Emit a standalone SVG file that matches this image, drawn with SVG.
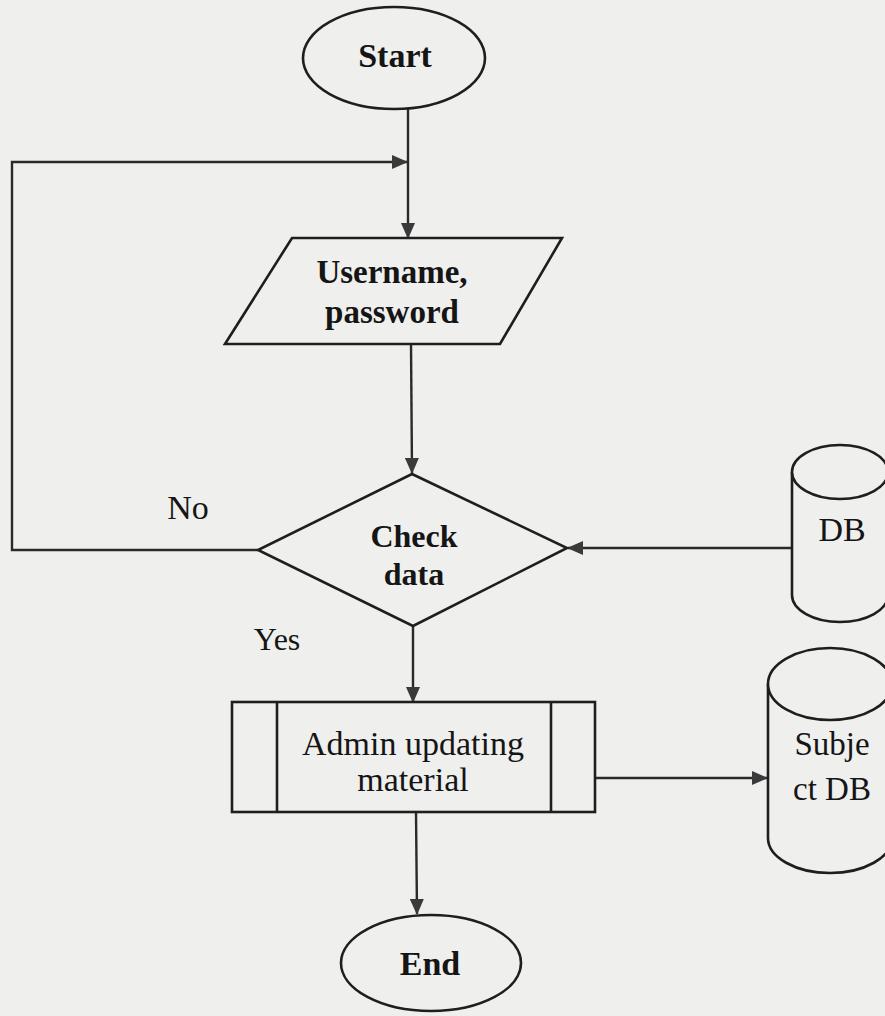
<svg xmlns="http://www.w3.org/2000/svg" width="885" height="1016" viewBox="0 0 885 1016">
<style>
.s{fill:none;stroke:#1e1e1e;stroke-width:2.6}
.f{fill:#efefed;stroke:#1e1e1e;stroke-width:2.6}
.c{fill:none;stroke:#2a2a2a;stroke-width:2.4}
.t{font-family:"Liberation Serif",serif;font-size:33px;fill:#151515;text-anchor:middle}
.b{font-weight:bold}
</style>
<defs>
<marker id="ah" markerWidth="16" markerHeight="14" refX="15" refY="7" orient="auto" markerUnits="userSpaceOnUse">
<path d="M0,0 L16,7 L0,14 Z" fill="#3a3a3a"/>
</marker>
</defs>
<rect width="885" height="1016" fill="#efefed"/>
<g id="connectors">
<path class="c" d="M408,109 L408,238" marker-end="url(#ah)"/>
<path class="c" d="M258,550 L12,550 L12,162 L407,162" marker-end="url(#ah)"/>
<path class="c" d="M411,344 L412,473" marker-end="url(#ah)"/>
<path class="c" d="M792,548 L568,548" marker-end="url(#ah)"/>
<path class="c" d="M413,626 L413,702" marker-end="url(#ah)"/>
<path class="c" d="M595,778 L767,778" marker-end="url(#ah)"/>
<path class="c" d="M416,812 L417,914" marker-end="url(#ah)"/>
</g>
<g id="start">
<ellipse class="f" cx="394" cy="58" rx="91" ry="51"/>
<text class="t b" x="395" y="67" style="font-size:34px">Start</text>
</g>
<g id="input">
<polygon class="f" points="292,238 562,238 500,344 225,344"/>
<text class="t b" x="392" y="283">Username,</text>
<text class="t b" x="392" y="323">password</text>
</g>
<g id="check">
<polygon class="f" points="412,474 567,548 413,626 258,550"/>
<text class="t b" x="414" y="547" style="font-size:32px">Check</text>
<text class="t b" x="414" y="585" style="font-size:32px">data</text>
</g>
<g id="labels">
<text class="t" x="188" y="519" style="font-size:34px">No</text>
<text class="t" x="277" y="650" style="font-size:32px">Yes</text>
</g>
<g id="db">
<path class="f" d="M792,472 L792,595 A48,27 0 0 0 888,595 L888,472"/>
<ellipse class="f" cx="840" cy="472" rx="48" ry="27"/>
<text class="t" x="842" y="541" style="font-size:34px">DB</text>
</g>
<g id="process">
<rect class="f" x="232" y="702" width="363" height="110"/>
<line class="s" x1="277" y1="702" x2="277" y2="812"/>
<line class="s" x1="551" y1="702" x2="551" y2="812"/>
<text class="t" x="413" y="755" style="font-size:34px">Admin updating</text>
<text class="t" x="413" y="791" style="font-size:34px">material</text>
</g>
<g id="subjectdb">
<path class="f" d="M768,684 L768,838 A62,35 0 0 0 892,838 L892,684"/>
<ellipse class="f" cx="830" cy="684" rx="62" ry="36"/>
<text class="t" x="832" y="755">Subje</text>
<text class="t" x="832" y="800">ct DB</text>
</g>
<g id="end">
<ellipse class="f" cx="431" cy="963" rx="90" ry="48"/>
<text class="t b" x="430" y="975" style="font-size:34px">End</text>
</g>
</svg>
